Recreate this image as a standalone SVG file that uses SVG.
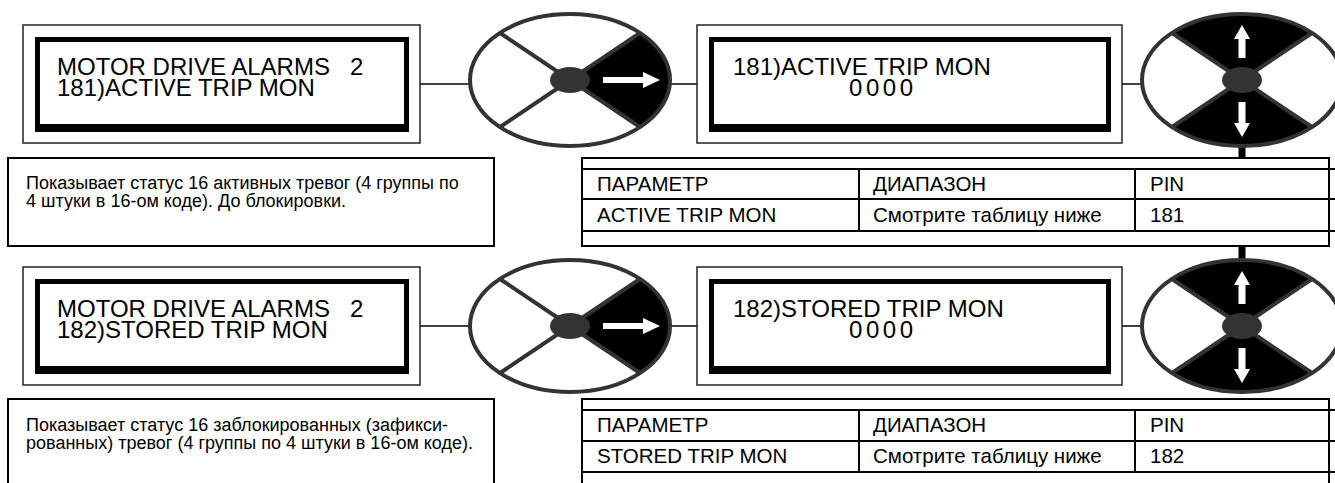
<svg xmlns="http://www.w3.org/2000/svg" xmlns:xlink="http://www.w3.org/1999/xlink" width="1335" height="483" viewBox="0 0 1335 483">
<style>
  .outer { fill: #ffffff; stroke: #222222; stroke-width: 1.5; }
  .bezel { fill: #000000; }
  .screen { fill: #ffffff; }
  .lcd { font-family: "Liberation Sans", Arial, sans-serif; font-size: 24px; fill: #000000; white-space: pre; }
  .desc { font-family: "Liberation Sans", Arial, sans-serif; font-size: 18px; fill: #000000; }
  .tbl { font-family: "Liberation Sans", Arial, sans-serif; font-size: 20.5px; fill: #000000; }
  .box { fill: #ffffff; stroke: #000000; stroke-width: 2; }
  .grid { stroke: #000000; stroke-width: 2; fill: none; }
  .rim { fill: none; stroke: #333333; stroke-width: 4; }
  .spoke { stroke: #333333; stroke-width: 4; }
  .hub { fill: #333333; }
  .sector { fill: #000000; }
  .arrow { fill: #ffffff; }
  .link { stroke: #000000; stroke-width: 1.5; fill: none; }
  .thick { stroke: #000000; stroke-width: 7; fill: none; }
</style>
<defs>
  <g id="wheelRight">
    <path class="sector" d="M0,0 L70,-47 A100,66 0 0,1 70,47 Z"/>
    <line class="spoke" x1="0" y1="0" x2="-70" y2="-47"/>
    <line class="spoke" x1="0" y1="0" x2="70" y2="-47"/>
    <line class="spoke" x1="0" y1="0" x2="-70" y2="47"/>
    <line class="spoke" x1="0" y1="0" x2="70" y2="47"/>
    <ellipse class="rim" cx="0" cy="0" rx="100" ry="66"/>
    <ellipse class="hub" cx="0" cy="0" rx="20" ry="13"/>
    <polygon class="arrow" points="33,-3 73,-3 73,-8 90,0 73,8 73,3 33,3"/>
  </g>
  <g id="wheelUpDown">
    <path class="sector" d="M0,0 L-70,-47 A100,66 0 0,1 70,-47 Z"/>
    <path class="sector" d="M0,0 L70,47 A100,66 0 0,1 -70,47 Z"/>
    <line class="spoke" x1="0" y1="0" x2="-70" y2="-47"/>
    <line class="spoke" x1="0" y1="0" x2="70" y2="-47"/>
    <line class="spoke" x1="0" y1="0" x2="-70" y2="47"/>
    <line class="spoke" x1="0" y1="0" x2="70" y2="47"/>
    <ellipse class="rim" cx="0" cy="0" rx="100" ry="66"/>
    <ellipse class="hub" cx="0" cy="0" rx="20" ry="13"/>
    <polygon class="arrow" points="0,-55 8,-41 3.5,-41 3.5,-22 -3.5,-22 -3.5,-41 -8,-41"/>
    <polygon class="arrow" points="0,57 8,43 3.5,43 3.5,22 -3.5,22 -3.5,43 -8,43"/>
  </g>
</defs>

<g id="connectors">
  <line class="thick" x1="1242" y1="144" x2="1242" y2="262"/>
  <line class="link" x1="420" y1="84" x2="470" y2="84"/>
  <line class="link" x1="670" y1="84" x2="697" y2="84"/>
  <line class="link" x1="1122" y1="84" x2="1142" y2="84"/>
  <line class="link" x1="420" y1="326" x2="470" y2="326"/>
  <line class="link" x1="670" y1="326" x2="697" y2="326"/>
  <line class="link" x1="1122" y1="326" x2="1142" y2="326"/>
</g>

<!-- Row 1 -->
<g id="lcd-menu-181">
  <rect class="outer" x="23" y="25" width="397" height="118"/>
  <rect class="bezel" x="35" y="37" width="374" height="95"/>
  <rect class="screen" x="40" y="42" width="364" height="82"/>
  <text class="lcd" xml:space="preserve" x="57" y="75">MOTOR DRIVE ALARMS   2</text>
  <text class="lcd" x="57" y="96">181)ACTIVE TRIP MON</text>
</g>
<g id="key-right-1" transform="translate(570,80)"><use xlink:href="#wheelRight" href="#wheelRight"/></g>
<g id="lcd-value-181">
  <rect class="outer" x="697" y="25" width="425" height="118"/>
  <rect class="bezel" x="709" y="37" width="402" height="95"/>
  <rect class="screen" x="714" y="42" width="392" height="82"/>
  <text class="lcd" x="733" y="75">181)ACTIVE TRIP MON</text>
  <text class="lcd" x="849" y="96" textLength="64" lengthAdjust="spacing">0000</text>
</g>
<g id="key-updown-1" transform="translate(1242,80)"><use xlink:href="#wheelUpDown" href="#wheelUpDown"/></g>
<g id="desc-181">
  <rect class="box" x="8" y="158" width="486" height="88"/>
  <text class="desc" x="26" y="189">Показывает статус 16 активных тревог (4 группы по</text>
  <text class="desc" x="26" y="207">4 штуки в 16-ом коде). До блокировки.</text>
</g>
<g id="table-181">
  <rect class="box" x="582" y="158" width="747" height="88"/>
  <line class="grid" x1="582" y1="169" x2="1335" y2="169"/>
  <line class="grid" x1="582" y1="199" x2="1335" y2="199"/>
  <line class="grid" x1="582" y1="231" x2="1335" y2="231"/>
  <line class="grid" x1="859" y1="169" x2="859" y2="231"/>
  <line class="grid" x1="1135" y1="169" x2="1135" y2="231"/>
  <text class="tbl" x="597" y="191">ПАРАМЕТР</text>
  <text class="tbl" x="873" y="191">ДИАПАЗОН</text>
  <text class="tbl" x="1150" y="191">PIN</text>
  <text class="tbl" x="597" y="222">ACTIVE TRIP MON</text>
  <text class="tbl" x="873" y="222">Смотрите таблицу ниже</text>
  <text class="tbl" x="1150" y="222">181</text>
</g>

<!-- Row 2 -->
<g id="lcd-menu-182">
  <rect class="outer" x="23" y="267" width="397" height="118"/>
  <rect class="bezel" x="35" y="279" width="374" height="95"/>
  <rect class="screen" x="40" y="284" width="364" height="82"/>
  <text class="lcd" xml:space="preserve" x="57" y="317">MOTOR DRIVE ALARMS   2</text>
  <text class="lcd" x="57" y="338">182)STORED TRIP MON</text>
</g>
<g id="key-right-2" transform="translate(570,326)"><use xlink:href="#wheelRight" href="#wheelRight"/></g>
<g id="lcd-value-182">
  <rect class="outer" x="697" y="267" width="425" height="118"/>
  <rect class="bezel" x="709" y="279" width="402" height="95"/>
  <rect class="screen" x="714" y="284" width="392" height="82"/>
  <text class="lcd" x="733" y="317">182)STORED TRIP MON</text>
  <text class="lcd" x="849" y="338" textLength="64" lengthAdjust="spacing">0000</text>
</g>
<g id="key-updown-2" transform="translate(1242,326)"><use xlink:href="#wheelUpDown" href="#wheelUpDown"/></g>
<g id="desc-182">
  <rect class="box" x="8" y="399" width="486" height="100"/>
  <text class="desc" x="26" y="431">Показывает статус 16 заблокированных (зафикси-</text>
  <text class="desc" x="26" y="449">рованных) тревог (4 группы по 4 штуки в 16-ом коде).</text>
</g>
<g id="table-182">
  <rect class="box" x="582" y="399" width="747" height="100"/>
  <line class="grid" x1="582" y1="410" x2="1335" y2="410"/>
  <line class="grid" x1="582" y1="441" x2="1335" y2="441"/>
  <line class="grid" x1="582" y1="472" x2="1335" y2="472"/>
  <line class="grid" x1="859" y1="410" x2="859" y2="472"/>
  <line class="grid" x1="1135" y1="410" x2="1135" y2="472"/>
  <text class="tbl" x="597" y="432">ПАРАМЕТР</text>
  <text class="tbl" x="873" y="432">ДИАПАЗОН</text>
  <text class="tbl" x="1150" y="432">PIN</text>
  <text class="tbl" x="597" y="463">STORED TRIP MON</text>
  <text class="tbl" x="873" y="463">Смотрите таблицу ниже</text>
  <text class="tbl" x="1150" y="463">182</text>
</g>
</svg>
